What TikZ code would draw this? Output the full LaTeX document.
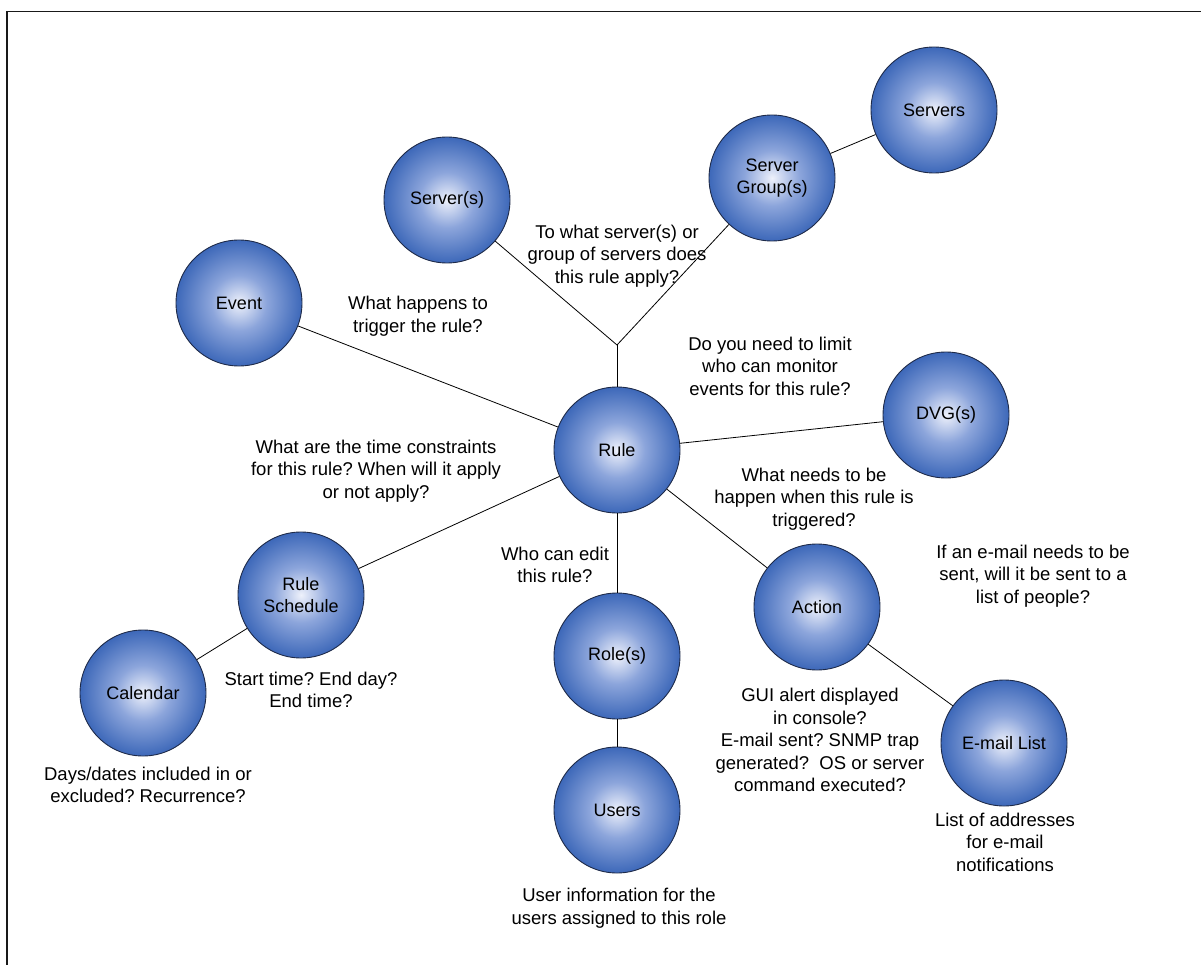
\documentclass[tikz,border=0pt]{standalone}
\usepackage{fontspec}
\setmainfont{Liberation Sans}
\frenchspacing
\definecolor{ballin}{HTML}{EEF1FB}
\definecolor{ballmid}{HTML}{8CA5DB}
\definecolor{ballout}{HTML}{3D68B9}
\definecolor{ballrim}{HTML}{1E2A48}
\pgfdeclareradialshading{ball}{\pgfpoint{0bp}{0bp}}{%
  color(0bp)=(ballin); color(11bp)=(ballmid); color(25bp)=(ballout); color(50bp)=(ballout)}
\begin{document}
\begin{tikzpicture}[x=1pt,y=-1pt,
  ball/.style={circle, minimum size=126pt, inner sep=0pt, draw=ballrim, line width=0.9pt,
    shading=ball, align=center, font=\fontsize{18}{22.5}\selectfont},
  note/.style={align=center, inner sep=0pt, font=\fontsize{18.5}{22.5}\selectfont},
  link/.style={line width=0.8pt, draw=black}]
\useasboundingbox (0,0) rectangle (1201,965);
% page frame
\draw[line width=1.2pt, draw=black!90] (7,965) -- (7,11.5) -- (1201,11.5);

% entities
\node[ball] (rule)     at (617,450) {Rule};
\node[ball] (srv)      at (447,200) {Server(s)};
\node[ball] (grp)      at (772,178) {Server\\Group(s)};
\node[ball] (servers)  at (934,110) {Servers};
\node[ball] (event)    at (239,303) {Event};
\node[ball] (dvg)      at (946,415) {DVG(s)};
\node[ball] (sched)    at (301,595) {Rule\\Schedule};
\node[ball] (cal)      at (143,693) {Calendar};
\node[ball] (role)     at (617,656) {Role(s)};
\node[ball] (users)    at (617,810) {Users};
\node[ball] (action)   at (817,607) {Action};
\node[ball] (mail)     at (1004,743) {E-mail List};
\coordinate (fork) at (617,345);

% connectors
\draw[link] (fork) -- (srv);
\draw[link] (fork) -- (grp);
\draw[link] (fork) -- (rule);
\draw[link] (grp) -- (servers);
\draw[link] (rule) -- (event);
\draw[link] (rule) -- (dvg);
\draw[link] (rule) -- (sched);
\draw[link] (sched) -- (cal);
\draw[link] (rule) -- (role);
\draw[link] (role) -- (users);
\draw[link] (rule) -- (action);
\draw[link] (action) -- (mail);

% questions
\node[note] (q1) at (617,256) {To what server(s) or\\group of servers does\\this rule apply?};
\node[note] (q2) at (418,316) {What happens to\\trigger the rule?};
\node[note] (q3) at (770,366) {Do you need to limit\\who can monitor\\events for this rule?};
\node[note] (q4) at (376,471) {What are the time constraints\\for this rule? When will it apply\\or not apply?};
\node[note] (q5) at (814,499) {What needs to be\\happen when this rule is\\triggered?};
\node[note] (q6) at (1033,576) {If an e-mail needs to be\\sent, will it be sent to a\\list of people?};
\node[note] (q7) at (555,565) {Who can edit\\this rule?};
\node[note] (q8) at (311,690) {Start time? End day?\\End time?};
\node[note] (q9) at (148,785) {Days/dates included in or\\excluded? Recurrence?};
\node[note] (q10) at (820,740) {GUI alert displayed\\in console?\\E-mail sent? SNMP trap\\generated?\ \ OS or server\\command executed?};
\node[note] (q11) at (1005,842) {List of addresses\\for e-mail\\notifications};
\node[note] (q12) at (619,908) {User information for the\\users assigned to this role};
\end{tikzpicture}
\end{document}
